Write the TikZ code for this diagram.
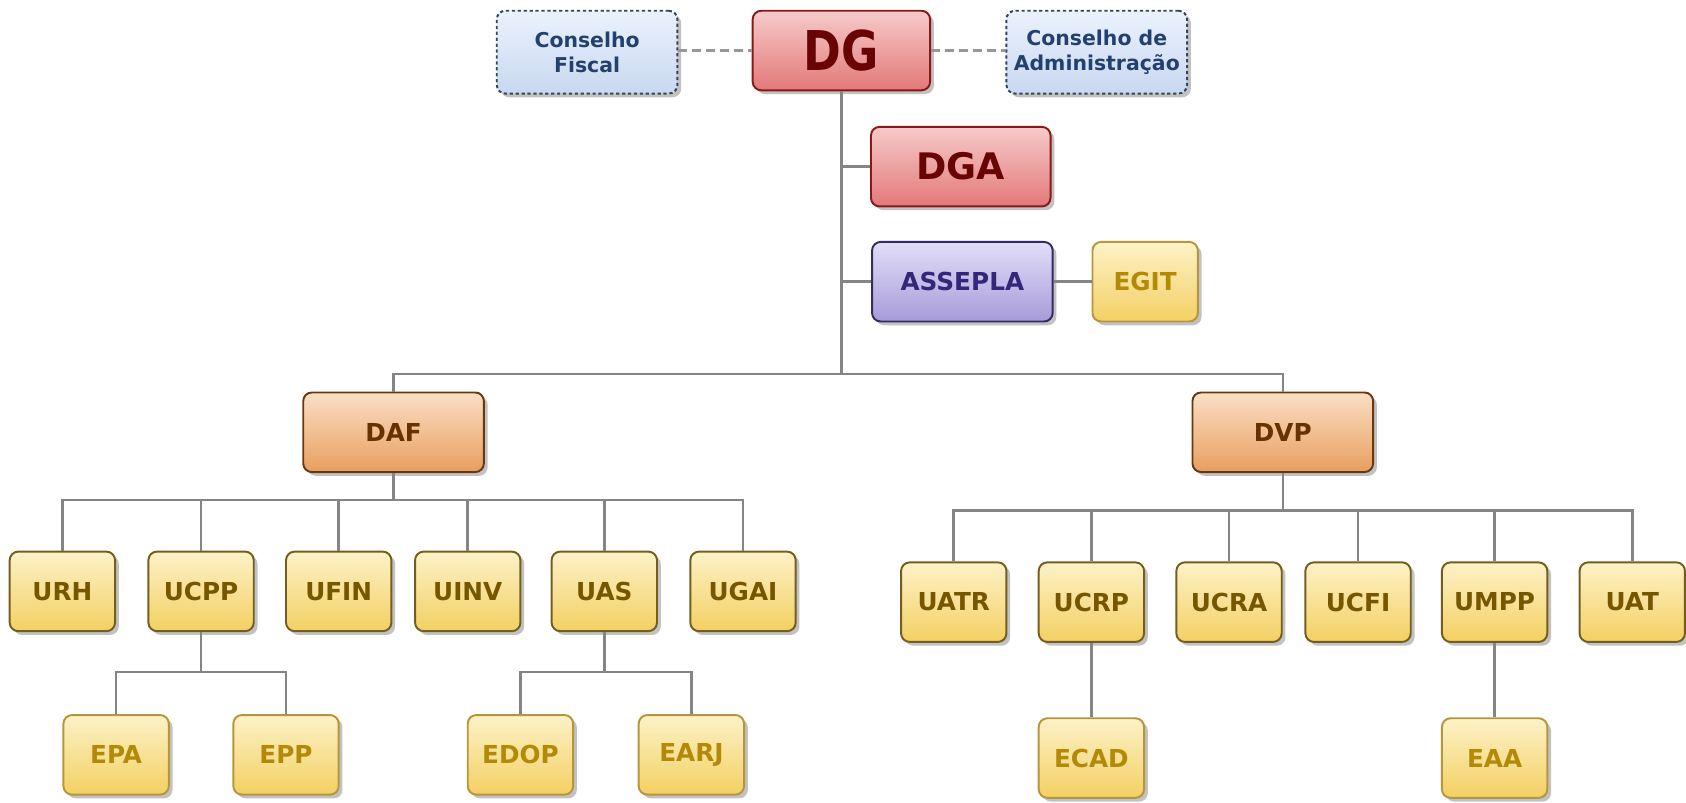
\documentclass[tikz,border=0pt]{standalone}
\usepackage{fontspec}
\usepackage{graphicx}
\setmainfont{DejaVu Sans}
\usetikzlibrary{shadows}
\definecolor{conn}{HTML}{858585}
\definecolor{ytop}{HTML}{FDF2C8}
\definecolor{ybot}{HTML}{F3D062}
\definecolor{ydraw}{HTML}{735E1E}
\definecolor{edraw}{HTML}{B5963A}
\definecolor{utext}{HTML}{765700}
\definecolor{etext}{HTML}{B38A08}
\definecolor{rtop}{HTML}{F6CACA}
\definecolor{rbot}{HTML}{E37878}
\definecolor{rdraw}{HTML}{8A1818}
\definecolor{rtext}{HTML}{690404}
\definecolor{ptop}{HTML}{E2DEF8}
\definecolor{pbot}{HTML}{A79BD9}
\definecolor{pdraw}{HTML}{372B62}
\definecolor{ptext}{HTML}{33277A}
\definecolor{otop}{HTML}{FADFC6}
\definecolor{obot}{HTML}{E89E5E}
\definecolor{odraw}{HTML}{683812}
\definecolor{otext}{HTML}{683200}
\definecolor{btop}{HTML}{EBF2FD}
\definecolor{bbot}{HTML}{C8D8F0}
\definecolor{bdraw}{HTML}{34445C}
\definecolor{btext}{HTML}{23406E}
\tikzset{
  orgbox/.style={rectangle, rounded corners=8pt, line width=1.8pt, align=center,
    font=\bfseries\fontsize{23}{27}\selectfont, inner sep=0pt,
    drop shadow={shadow xshift=3.5pt, shadow yshift=-3.5pt, opacity=0.4, fill=black!60}},
  ubox/.style={orgbox, draw=ydraw, top color=ytop, bottom color=ybot, text=utext,
    minimum width=98pt, minimum height=74pt},
  ebox/.style={orgbox, draw=edraw, top color=ytop, bottom color=ybot, text=etext,
    minimum width=98pt, minimum height=74pt},
  redbox/.style={orgbox, draw=rdraw, top color=rtop, bottom color=rbot, text=rtext,
    minimum height=74pt},
  purbox/.style={orgbox, draw=pdraw, top color=ptop, bottom color=pbot, text=ptext,
    minimum width=168pt, minimum height=74pt},
  orbox/.style={orgbox, draw=odraw, top color=otop, bottom color=obot, text=otext,
    minimum width=168pt, minimum height=74pt},
  blubox/.style={orgbox, draw=bdraw, dash pattern=on 3pt off 2.5pt,
    top color=btop, bottom color=bbot, text=btext,
    font=\bfseries\fontsize{19}{23}\selectfont,
    minimum width=168pt, minimum height=77pt},
  wire/.style={draw=conn, line width=2.4pt},
  dwire/.style={draw=conn!85, line width=2.4pt, dash pattern=on 8pt off 5pt}
}
\begin{document}
\begin{tikzpicture}[x=1pt,y=-1pt]
\useasboundingbox (0,0) rectangle (1568,746);
% top
\node[blubox] (CF) at (546,48.5) {Conselho\\Fiscal};
\node[redbox, minimum width=165pt] (DG) at (782.5,47) {\scalebox{0.83}[1]{\fontsize{51}{51}\selectfont DG}};
\node[blubox] (CA) at (1020,48.5) {Conselho de\\Administração};
\node[redbox, minimum width=167pt, font=\bfseries\fontsize{34}{40}\selectfont] (DGA) at (893.5,155) {DGA};
\node[purbox] (ASS) at (895,262) {ASSEPLA};
\node[ebox] (EGIT) at (1065,262) {EGIT};
\node[orbox] (DAF) at (366,402) {DAF};
\node[orbox] (DVP) at (1193,402) {DVP};
% row 1 left
\node[ubox] (URH) at (58,550) {URH};
\node[ubox] (UCPP) at (187,550) {UCPP};
\node[ubox] (UFIN) at (315,550) {UFIN};
\node[ubox] (UINV) at (435,550) {UINV};
\node[ubox] (UAS) at (562,550) {UAS};
\node[ubox] (UGAI) at (691,550) {UGAI};
% row 1 right
\node[ubox] (UATR) at (887,560) {UATR};
\node[ubox] (UCRP) at (1015,560) {UCRP};
\node[ubox] (UCRA) at (1143,560) {UCRA};
\node[ubox] (UCFI) at (1263,560) {UCFI};
\node[ubox] (UMPP) at (1390,560) {UMPP};
\node[ubox] (UAT) at (1518,560) {UAT};
% row 2
\node[ebox] (EPA) at (108,702) {EPA};
\node[ebox] (EPP) at (266,702) {EPP};
\node[ebox] (EDOP) at (484,702) {EDOP};
\node[ebox] (EARJ) at (643,702) {EARJ};
\node[ebox] (ECAD) at (1015,705) {ECAD};
\node[ebox] (EAA) at (1390,705) {EAA};
% bus coordinates
\coordinate (bus0) at (783,348);
\coordinate (busA) at (366,465);
\coordinate (busV) at (1193,475);
\coordinate (busC) at (187,625);
\coordinate (busS) at (562,625);
% connectors
\draw[dwire] (CF.east |- DG.west) -- (DG.west);
\draw[dwire] (DG.east) -- (CA.west |- DG.east);
\draw[wire] (DG.south) -- (DG.south |- bus0);
\draw[wire] (DG.south |- DGA.west) -- (DGA.west);
\draw[wire] (DG.south |- ASS.west) -- (ASS.west);
\draw[wire] (ASS.east) -- (EGIT.west);
\draw[wire] (DAF.north) |- (bus0) -| (DVP.north);
\draw[wire] (DAF.south) -- (DAF.south |- busA);
\foreach \c in {URH,UCPP,UFIN,UINV,UAS,UGAI}
  \draw[wire] (DAF.south |- busA) -| (\c.north);
\draw[wire] (DVP.south) -- (DVP.south |- busV);
\foreach \c in {UATR,UCRP,UCRA,UCFI,UMPP,UAT}
  \draw[wire] (DVP.south |- busV) -| (\c.north);
\draw[wire] (UCPP.south) -- (UCPP.south |- busC);
\foreach \c in {EPA,EPP}
  \draw[wire] (UCPP.south |- busC) -| (\c.north);
\draw[wire] (UAS.south) -- (UAS.south |- busS);
\foreach \c in {EDOP,EARJ}
  \draw[wire] (UAS.south |- busS) -| (\c.north);
\draw[wire] (UCRP.south) -- (ECAD.north);
\draw[wire] (UMPP.south) -- (EAA.north);
\end{tikzpicture}
\end{document}
